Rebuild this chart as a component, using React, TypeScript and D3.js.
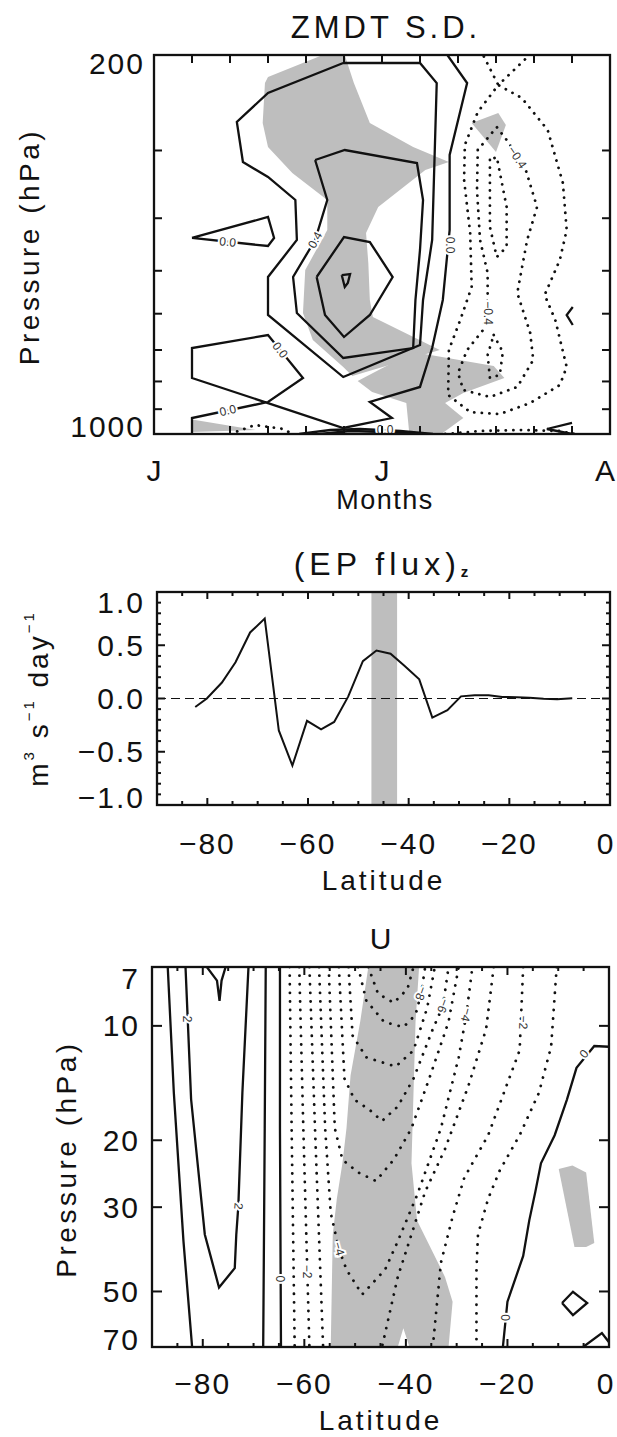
import React from 'react';
import * as d3 from 'd3';

type Pt = [number, number];

const FONT = "'Liberation Sans', Arial, Helvetica, sans-serif";
const GREY = '#bebebe';
const INK = '#111';

// ================= Panel 1 : ZMDT S.D. (days from 1 June, pressure hPa) =================
const monthDays = [0, 30, 60];
const monthNames = ['J', 'J', 'A'];
const zmdtPressureLabels = [200, 1000];
const zmdtPressureTicks = [300, 400, 500, 600, 700, 800, 900];

const zmdtSigUpper: Pt[] = [[15.0, 219.6], [22.2, 200], [25.1, 200], [26.3, 225.3], [28.4, 267.0], [34.1, 295.6], [38.8, 315.1], [35.7, 325.9], [29.5, 381.4], [27.9, 425.9], [28.2, 483.8], [28.4, 566.0], [28.8, 608.5], [37.6, 700.0], [26.1, 781.7], [24.9, 752.4], [20.9, 670.9], [19.6, 598.2], [19.9, 498.3], [22.8, 420.5], [22.8, 370.2], [18.2, 330.1], [15.0, 295.6], [14.3, 267.0], [14.6, 225.3]];
const zmdtSigLower: Pt[] = [[26.8, 798.4], [34.1, 705.9], [44.7, 749.2], [46.1, 788.3], [40.7, 840.2], [38.3, 876.7], [40.7, 934.4], [37.8, 1000], [33.6, 1000], [33.2, 876.7], [28.7, 836.7]];
const zmdtSigSmall: Pt[] = [[41.8, 267.0], [45.3, 255.8], [46.3, 269.2], [45.0, 302.0]];
const zmdtSigSurface: Pt[] = [[5.0, 940], [13.4, 983], [5.0, 991.5]];

const zmdtZeroMain: Pt[] = [[38.6, 200], [41.2, 225.3], [38.9, 305.8], [38.9, 420.5], [38.0, 566.0], [36.6, 694.1], [35.0, 818.9], [28.4, 873.0], [31.3, 934.4], [24.9, 974.8], [5.0, 788.3], [5.0, 694.1], [15.0, 656.8], [19.6, 788.3], [15.0, 873.0], [5.0, 934.4], [5.0, 1000]];
const zmdtZeroIsland: Pt[] = [[5.0, 435.0], [15.0, 397.9], [15.8, 435.0], [15.0, 450.1], [5.0, 435.0]];
const zmdtPos02: Pt[] = [[24.9, 206.9], [15.0, 235.0], [10.9, 265.8], [11.7, 315.1], [15.0, 335.7], [18.6, 370.2], [18.8, 438.7], [15.0, 513.4], [15.0, 603.3], [24.9, 785.1], [35.0, 685.3], [35.4, 566.0], [36.6, 438.7], [37.2, 225.3], [35.0, 206.9], [24.9, 206.9]];
const zmdtPos04: Pt[] = [[21.2, 312.4], [25.1, 299.4], [34.6, 316.4], [35.4, 370.2], [35.0, 457.7], [34.4, 566.0], [34.1, 694.1], [24.9, 724.2], [18.8, 598.2], [18.3, 513.4], [21.2, 438.7], [22.8, 370.2], [21.2, 312.4]];
const zmdtPos06: Pt[] = [[21.4, 513.4], [25.0, 433.2], [28.4, 442.5], [31.4, 513.4], [28.4, 603.3], [25.0, 662.4], [22.5, 603.3], [21.4, 513.4]];
const zmdtPos08: Pt[] = [[24.7, 509.1], [25.8, 506.9], [25.5, 526.6], [25.1, 535.6], [24.7, 509.1]];
const zmdtSurfaceA: Pt[] = [[19.1, 1000], [23.2, 983.2], [27.1, 979.0], [32.4, 987.4], [36.7, 1000]];
const zmdtSurfaceB: Pt[] = [[21.8, 1000], [25.8, 987.4], [30.4, 991.5], [35.0, 1000]];
const zmdtEdgeA: Pt[] = [[55.1, 583.2], [54.3, 603.3], [55.1, 629.5]];
const zmdtEdgeB: Pt[] = [[55.0, 954.3], [51.7, 979.0], [55.0, 1000]];

const zmdtNeg02: Pt[] = [[43.4, 201.3], [45.3, 227.2], [42.6, 254.8], [40.9, 293.1], [40.8, 340.0], [41.6, 425.9], [41.8, 535.6], [40.3, 616.2], [38.8, 700.0], [38.7, 847.4], [41.6, 910.9], [45.5, 918.7], [49.5, 876.7], [53.4, 812.2], [54.3, 752.4], [52.8, 616.2], [51.4, 554.2], [53.4, 477.6], [54.3, 420.5], [53.8, 344.4], [51.8, 275.0], [48.4, 240.1], [45.3, 227.2], [49.2, 201.3]];
const zmdtNeg04: Pt[] = [[42.6, 299.4], [42.5, 354.8], [42.9, 438.7], [43.9, 504.7], [43.9, 566.0], [43.3, 643.0], [41.2, 700.0], [40.0, 771.8], [40.7, 829.5], [44.2, 854.6], [47.8, 818.9], [49.9, 730.4], [49.5, 651.2], [47.8, 549.5], [49.1, 438.7], [50.4, 381.4], [48.8, 321.8], [46.4, 286.9], [45.1, 271.6], [42.6, 299.4]];
const zmdtNeg06a: Pt[] = [[44.2, 312.4], [44.2, 365.5], [44.2, 415.2], [45.1, 471.6], [46.4, 452.0], [46.4, 381.4], [45.1, 308.4], [44.2, 312.4]];
const zmdtNeg06b: Pt[] = [[44.7, 656.8], [45.9, 705.9], [45.5, 778.3], [44.2, 788.3], [43.9, 715.0], [44.7, 656.8]];
const zmdtNegSurfaceA: Pt[] = [[38.3, 1000], [42.9, 987.4], [48.2, 983.2], [53.4, 987.4], [55.4, 1000]];
const zmdtNegSurfaceB: Pt[] = [[10.0, 1000], [13.3, 962.4], [17.0, 979.0], [18.2, 1000]];

const zmdtLabels = [
  { text: '0.0', x: 9.7, y: 442.5, rot: 5 },
  { text: '0.4', x: 21.2, y: 438.7, rot: -62 },
  { text: '0.0', x: 16.6, y: 700, rot: 52 },
  { text: '0.0', x: 9.7, y: 905, rot: -12 },
  { text: '0.0', x: 38.9, y: 448.2, rot: 90 },
  { text: '\u22120.4', x: 47.8, y: 309, rot: 56 },
  { text: '\u22120.4', x: 43.9, y: 598.2, rot: 90 },
  { text: '0.0', x: 30.4, y: 983, rot: 0 },
];

// ================= Panel 2 : (EP flux)z =================
const epLat = [-82.4, -80.1, -77.1, -74.4, -71.5, -68.6, -65.8, -63.1, -60.2, -57.4, -54.8, -52.0, -49.1, -46.4, -43.6, -40.9, -37.9, -35.3, -32.3, -29.6, -26.9, -24.1, -21.4, -18.5, -16.0, -13.2, -10.5, -7.5];
const epFlux = [-0.08, 0.0, 0.15, 0.34, 0.62, 0.75, -0.30, -0.63, -0.21, -0.29, -0.22, 0.02, 0.35, 0.45, 0.42, 0.31, 0.18, -0.18, -0.11, 0.02, 0.03, 0.03, 0.015, 0.012, 0.006, -0.003, -0.006, 0.003];
const epSigBand = [-47.4, -42.3];
const latTicks = [-80, -60, -40, -20, 0];
const latLabels = ['\u221280', '\u221260', '\u221240', '\u221220', '0'];
const epValueTicks = [1.0, 0.5, 0.0, -0.5, -1.0];
const epValueLabels = ['1.0', '0.5', '0.0', '\u22120.5', '\u22121.0'];

// ================= Panel 3 : U =================
const uPressureTicks = [7, 10, 20, 30, 50, 70];
const uPressureLabels = ['7', '10', '20', '30', '50', '70'];

const uSigMain: Pt[] = [[-47.4, 7], [-49.0, 9.76], [-50.9, 13.5], [-51.7, 18.6], [-52.5, 23.0], [-53.6, 28.5], [-54.4, 35.4], [-54.8, 70], [-41.6, 70], [-40.5, 62.5], [-39.3, 70], [-31.6, 70], [-30.8, 53.2], [-32.3, 45.8], [-34.7, 39.4], [-37.8, 32.5], [-38.9, 23.0], [-38.5, 15.0], [-38.1, 9.76], [-37.4, 7]];
const uSigSmall: Pt[] = [[-9.9, 23.8], [-7.2, 23.3], [-4.5, 24.3], [-2.9, 37.3], [-4.5, 38.2], [-6.8, 38.2]];

const uSolidA: Pt[] = [[-86.9, 7], [-85.7, 15.0], [-83.8, 36.9], [-82.1, 70]];
const uSolidB: Pt[] = [[-83.4, 7], [-82.3, 15.6], [-79.6, 35.4], [-76.8, 48.8], [-73.7, 43.4], [-73.4, 35.4], [-73.0, 29.8], [-72.2, 15.0], [-71.0, 7]];
const uSolidSpike: Pt[] = [[-79.2, 7], [-77.2, 7.6], [-76.7, 8.6], [-76.3, 7.6], [-75.5, 7]];
const uSolidC: Pt[] = [[-67.6, 7], [-67.8, 18.6], [-68.1, 70]];
const uZeroWest: Pt[] = [[-64.8, 7], [-64.8, 18.6], [-64.6, 70]];
const uZeroEast: Pt[] = [[0, 11.35], [-2.9, 11.3], [-6.4, 12.9], [-8.3, 15.65], [-10.7, 19.4], [-13.4, 23.0], [-14.5, 27.3], [-15.7, 32.5], [-16.9, 40.3], [-20.0, 53.2], [-20.9, 70]];
const uDiamond: Pt[] = [[-9.25, 53.6], [-7.1, 50.1], [-4.3, 53.6], [-7.1, 57.7], [-9.25, 53.6]];
const uCorner: Pt[] = [[-5.1, 70], [-1.4, 64.3], [0, 68]];

const uNeg1West: Pt[] = [[-62.9, 7], [-62.5, 18.6], [-61.9, 70]];
const uNeg1East: Pt[] = [[-10.3, 7], [-11.4, 11.35], [-13.8, 15.0], [-17.6, 19.4], [-21.5, 24.0], [-23.8, 28.5], [-25.8, 35.4], [-26.1, 43.8], [-26.1, 70]];
const uNeg2West: Pt[] = [[-61.0, 7], [-60.2, 18.6], [-59.0, 70]];
const uNeg2East: Pt[] = [[-16.9, 7], [-17.6, 11.6], [-20.7, 15.0], [-23.8, 19.4], [-28.5, 25.1], [-30.8, 31.8], [-33.1, 42.0], [-34.7, 70]];
const uNeg3West: Pt[] = [[-59.0, 7], [-57.9, 18.6], [-56.3, 70]];
const uNeg3East: Pt[] = [[-22.7, 7], [-24.2, 10.2], [-27.7, 14.4], [-32.3, 21.1], [-36.2, 27.3], [-38.9, 35.4], [-41.6, 45.8], [-44.7, 70]];
const uNeg4: Pt[] = [[-57.1, 7], [-55.9, 18.6], [-54.8, 31.1], [-53.2, 38.6], [-51.7, 43.8], [-48.6, 50.9], [-44.1, 43.8], [-41.6, 36.9], [-37.8, 27.9], [-33.1, 18.6], [-29.6, 12.1], [-28.1, 9.35], [-26.9, 7]];
const uNeg5: Pt[] = [[-55.2, 7], [-54.0, 18.6], [-52.5, 22.5], [-49.4, 24.3], [-45.9, 25.6], [-42.4, 22.5], [-38.9, 18.6], [-35.4, 13.76], [-31.6, 9.76], [-29.6, 7]];
const uNeg6: Pt[] = [[-53.2, 7], [-52.1, 13.76], [-50.1, 15.65], [-47.0, 16.7], [-44.7, 17.8], [-41.6, 16.3], [-38.5, 13.76], [-34.7, 10.2], [-32.7, 8.86], [-31.6, 7]];
const uNeg7: Pt[] = [[-51.3, 7], [-50.5, 10.6], [-47.8, 12.1], [-42.0, 12.8], [-38.5, 11.6], [-35.8, 8.96], [-34.3, 7]];
const uNeg8: Pt[] = [[-49.4, 7], [-47.8, 8.58], [-44.3, 9.76], [-40.5, 10.08], [-38.1, 9.35], [-37.0, 8.22], [-36.2, 7]];
const uNeg9: Pt[] = [[-47.4, 7], [-45.5, 8.22], [-42.4, 8.7], [-39.7, 8.0], [-38.5, 7]];

const uLabels = [
  { text: '2', x: -83.1, y: 9.6, rot: 90 },
  { text: '2', x: -73.0, y: 29.8, rot: 95 },
  { text: '0', x: -64.8, y: 46.3, rot: 90 },
  { text: '\u22122', x: -59.5, y: 44.3, rot: 90 },
  { text: '\u22124', x: -53.2, y: 38.6, rot: 75 },
  { text: '\u22128', x: -37.0, y: 8.22, rot: 110 },
  { text: '\u22126', x: -32.7, y: 8.86, rot: 110 },
  { text: '\u22124', x: -28.1, y: 9.35, rot: 105 },
  { text: '\u22122', x: -16.9, y: 9.8, rot: 92 },
  { text: '0', x: -4.9, y: 11.85, rot: -50 },
  { text: '0', x: -20.4, y: 58.6, rot: 90 },
];

// ================= layout =================
const P1 = { l: 154, r: 610, t: 55, b: 434 };
const P2 = { l: 157, r: 610, t: 592, b: 805 };
const P3 = { l: 152, r: 609, t: 967, b: 1347 };

const solidStyle = { fill: 'none', stroke: INK, strokeWidth: 2.3, strokeLinejoin: 'miter' as const };
const dotStyle = (gap: number) => ({ fill: 'none', stroke: INK, strokeWidth: 2.8, strokeLinecap: 'round' as const, strokeDasharray: `0.1 ${gap}` });

function CLabel({ x, y, text, rot }: { x: number; y: number; text: string; rot: number }) {
  return (
    <text transform={`translate(${x},${y}) rotate(${rot})`} textAnchor="middle" dominantBaseline="central"
      fontSize={12} fontFamily={FONT} fill="#333" stroke="#fff" strokeWidth={4} paintOrder="stroke">{text}</text>
  );
}

function Frame({ p }: { p: { l: number; r: number; t: number; b: number } }) {
  return <rect x={p.l} y={p.t} width={p.r - p.l} height={p.b - p.t} fill="none" stroke={INK} strokeWidth={2.3} />;
}

const tickText = { fontFamily: FONT, fontSize: 30, letterSpacing: 2, fill: INK } as const;
const edgeText = { fontFamily: FONT, fontSize: 30, fill: INK } as const;

export default function App() {
  const x1 = d3.scaleLinear().domain([0, 60]).range([P1.l, P1.r]);
  const y1 = d3.scaleLog().domain([200, 1000]).range([P1.t, P1.b]);
  const l1 = d3.line<Pt>().x(d => x1(d[0])).y(d => y1(d[1]));
  const x2 = d3.scaleLinear().domain([-90, 0]).range([P2.l, P2.r]);
  const y2 = d3.scaleLinear().domain([-1, 1]).range([P2.b, P2.t]);
  const l2 = d3.line<number>().x((_, i) => x2(epLat[i])).y(d => y2(d));
  const x3 = d3.scaleLinear().domain([-90, 0]).range([P3.l, P3.r]);
  const y3 = d3.scaleLog().domain([7, 70]).range([P3.t, P3.b]);
  const l3 = d3.line<Pt>().x(d => x3(d[0])).y(d => y3(d[1]));

  const clampY = (v: number, p: { t: number; b: number }, top: number, bot: number) => Math.min(Math.max(v, p.t + top), p.b - bot);

  const p1Solid = [zmdtZeroMain, zmdtZeroIsland, zmdtPos02, zmdtPos04, zmdtPos06, zmdtPos08, zmdtSurfaceA, zmdtSurfaceB, zmdtEdgeA, zmdtEdgeB];
  const p1Dotted = [zmdtNeg02, zmdtNeg04, zmdtNeg06a, zmdtNeg06b, zmdtNegSurfaceA, zmdtNegSurfaceB];
  const p3Solid = [uSolidA, uSolidB, uSolidSpike, uSolidC, uZeroWest, uZeroEast, uDiamond, uCorner];
  const p3Dotted = [uNeg1West, uNeg1East, uNeg2West, uNeg2East, uNeg3West, uNeg3East, uNeg4, uNeg5, uNeg6, uNeg7, uNeg8, uNeg9];

  const dayTicks = d3.range(5, 60, 5);
  const latMinor = d3.range(-85, 0, 5);
  const epMinor = d3.range(-9, 10).map(v => v / 10);

  return (
    <svg width={617} height={1437} viewBox="0 0 617 1437" style={{ position: 'absolute', left: 0, top: 0, background: '#fff' }}
      fontFamily={FONT}>
      <rect x={0} y={0} width={617} height={1437} fill="#fff" />
      <defs>
        <clipPath id="clip1"><rect x={P1.l} y={P1.t} width={P1.r - P1.l} height={P1.b - P1.t} /></clipPath>
        <clipPath id="clip2"><rect x={P2.l} y={P2.t} width={P2.r - P2.l} height={P2.b - P2.t} /></clipPath>
        <clipPath id="clip3"><rect x={P3.l} y={P3.t} width={P3.r - P3.l} height={P3.b - P3.t} /></clipPath>
      </defs>

      {/* ================= Panel 1 ================= */}
      <text x={(P1.l + P1.r) / 2 + 4} y={27} textAnchor="middle" dominantBaseline="central" fontSize={31} letterSpacing={4} fill={INK}>ZMDT S.D.</text>
      <g clipPath="url(#clip1)">
        {[zmdtSigUpper, zmdtSigLower, zmdtSigSmall, zmdtSigSurface].map((p, i) => (
          <path key={'g' + i} d={l1(p) + 'Z'} fill={GREY} stroke="none" />
        ))}
        {p1Solid.map((p, i) => <path key={'s' + i} d={l1(p) || ''} {...solidStyle} />)}
        {p1Dotted.map((p, i) => <path key={'d' + i} d={l1(p) || ''} {...dotStyle(7.5)} />)}
        {zmdtLabels.map((lb, i) => <CLabel key={'l' + i} x={x1(lb.x)} y={y1(lb.y)} text={lb.text} rot={lb.rot} />)}
      </g>
      {dayTicks.map(d => (
        <g key={'dt' + d}>
          <line x1={x1(d)} x2={x1(d)} y1={P1.t} y2={P1.t + 8} stroke={INK} strokeWidth={2} />
          <line x1={x1(d)} x2={x1(d)} y1={P1.b} y2={P1.b - 8} stroke={INK} strokeWidth={2} />
        </g>
      ))}
      {zmdtPressureTicks.map(p => (
        <g key={'pt' + p}>
          <line x1={P1.l} x2={P1.l + 8} y1={y1(p)} y2={y1(p)} stroke={INK} strokeWidth={2} />
          <line x1={P1.r} x2={P1.r - 8} y1={y1(p)} y2={y1(p)} stroke={INK} strokeWidth={2} />
        </g>
      ))}
      <Frame p={P1} />
      {zmdtPressureLabels.map(p => (
        <text key={'pl' + p} x={145} y={clampY(y1(p), P1, 8, 8)} textAnchor="end" dominantBaseline="central" {...tickText}>{p}</text>
      ))}
      {monthDays.map((d, i) => (
        <text key={'ml' + i} x={Math.min(x1(d), 605)} y={470} textAnchor="middle" dominantBaseline="central" {...edgeText}>{monthNames[i]}</text>
      ))}
      <text x={x1(30) + 3} y={500} textAnchor="middle" dominantBaseline="central" fontSize={27} letterSpacing={1.5} fill={INK}>Months</text>
      <text transform={`translate(29,${(P1.t + P1.b) / 2 + 2}) rotate(-90)`} textAnchor="middle" dominantBaseline="central" fontSize={28} letterSpacing={3.5} fill={INK}>Pressure (hPa)</text>

      {/* ================= Panel 2 ================= */}
      <text x={(P2.l + P2.r) / 2} y={564} textAnchor="middle" dominantBaseline="central" fontSize={32} letterSpacing={5} fill={INK}>(EP flux)<tspan fontSize={15} fontWeight="bold" dy={7}>z</tspan></text>
      <g clipPath="url(#clip2)">
        <rect x={x2(epSigBand[0])} y={P2.t} width={x2(epSigBand[1]) - x2(epSigBand[0])} height={P2.b - P2.t} fill={GREY} />
        <line x1={P2.l} x2={P2.r} y1={y2(0)} y2={y2(0)} stroke={INK} strokeWidth={1} strokeDasharray="9 5" />
        <path d={l2(epFlux) || ''} fill="none" stroke={INK} strokeWidth={2} strokeLinejoin="miter" />
      </g>
      {latMinor.map(v => {
        const len = v % 20 === 0 ? 7 : 4;
        return (
          <g key={'lt2' + v}>
            <line x1={x2(v)} x2={x2(v)} y1={P2.t} y2={P2.t + len} stroke={INK} strokeWidth={2} />
            <line x1={x2(v)} x2={x2(v)} y1={P2.b} y2={P2.b - len} stroke={INK} strokeWidth={2} />
          </g>
        );
      })}
      {epMinor.map(v => {
        const len = Math.abs(Math.round(v * 10)) % 5 === 0 ? 8 : 4;
        return (
          <g key={'et' + v}>
            <line x1={P2.l} x2={P2.l + len} y1={y2(v)} y2={y2(v)} stroke={INK} strokeWidth={2} />
            <line x1={P2.r} x2={P2.r - len} y1={y2(v)} y2={y2(v)} stroke={INK} strokeWidth={2} />
          </g>
        );
      })}
      <Frame p={P2} />
      {epValueTicks.map((v, i) => (
        <text key={'ev' + i} x={145} y={clampY(y2(v), P2, 10, 8)} textAnchor="end" dominantBaseline="central" {...tickText}>{epValueLabels[i]}</text>
      ))}
      {latTicks.map((v, i) => (
        <text key={'lx2' + i} x={Math.min(x2(v), 605)} y={843} textAnchor="middle" dominantBaseline="central" {...(i === latTicks.length - 1 ? edgeText : tickText)}>{latLabels[i]}</text>
      ))}
      <text x={(P2.l + P2.r) / 2} y={880} textAnchor="middle" dominantBaseline="central" fontSize={28} letterSpacing={3} fill={INK}>Latitude</text>
      <text transform={`translate(38,${(P2.t + P2.b) / 2}) rotate(-90)`} textAnchor="middle" dominantBaseline="central" fontSize={28} letterSpacing={3} fill={INK}>
        m<tspan fontSize={15} dy={-10}>3</tspan><tspan dy={10}> s</tspan><tspan fontSize={15} dy={-10}>{'\u22121'}</tspan><tspan dy={10}> day</tspan><tspan fontSize={15} dy={-10}>{'\u22121'}</tspan>
      </text>

      {/* ================= Panel 3 ================= */}
      <text x={(P3.l + P3.r) / 2} y={938} textAnchor="middle" dominantBaseline="central" fontSize={30} fill={INK}>U</text>
      <g clipPath="url(#clip3)">
        {[uSigMain, uSigSmall].map((p, i) => <path key={'ug' + i} d={l3(p) + 'Z'} fill={GREY} stroke="none" />)}
        {p3Solid.map((p, i) => <path key={'us' + i} d={l3(p) || ''} {...solidStyle} />)}
        {p3Dotted.map((p, i) => <path key={'ud' + i} d={l3(p) || ''} {...dotStyle(8.5)} />)}
        {uLabels.map((lb, i) => <CLabel key={'ul' + i} x={x3(lb.x)} y={y3(lb.y)} text={lb.text} rot={lb.rot} />)}
      </g>
      {latMinor.map(v => {
        const len = v % 20 === 0 ? 8 : 4;
        return (
          <g key={'lt3' + v}>
            <line x1={x3(v)} x2={x3(v)} y1={P3.t} y2={P3.t + len} stroke={INK} strokeWidth={2} />
            <line x1={x3(v)} x2={x3(v)} y1={P3.b} y2={P3.b - len} stroke={INK} strokeWidth={2} />
          </g>
        );
      })}
      {uPressureTicks.slice(1, -1).map(p => (
        <g key={'upt' + p}>
          <line x1={P3.l} x2={P3.l + 10} y1={y3(p)} y2={y3(p)} stroke={INK} strokeWidth={2} />
          <line x1={P3.r} x2={P3.r - 10} y1={y3(p)} y2={y3(p)} stroke={INK} strokeWidth={2} />
        </g>
      ))}
      <Frame p={P3} />
      {uPressureTicks.map((p, i) => (
        <text key={'upl' + p} x={140} y={clampY(y3(p), P3, 11, 8)} textAnchor="end" dominantBaseline="central" {...tickText}>{uPressureLabels[i]}</text>
      ))}
      {latTicks.map((v, i) => (
        <text key={'lx3' + i} x={Math.min(x3(v), 605)} y={1383} textAnchor="middle" dominantBaseline="central" {...(i === latTicks.length - 1 ? edgeText : tickText)}>{latLabels[i]}</text>
      ))}
      <text x={(P3.l + P3.r) / 2} y={1420} textAnchor="middle" dominantBaseline="central" fontSize={28} letterSpacing={3} fill={INK}>Latitude</text>
      <text transform={`translate(66,${(P3.t + P3.b) / 2 + 2}) rotate(-90)`} textAnchor="middle" dominantBaseline="central" fontSize={28} letterSpacing={3.5} fill={INK}>Pressure (hPa)</text>
    </svg>
  );
}
